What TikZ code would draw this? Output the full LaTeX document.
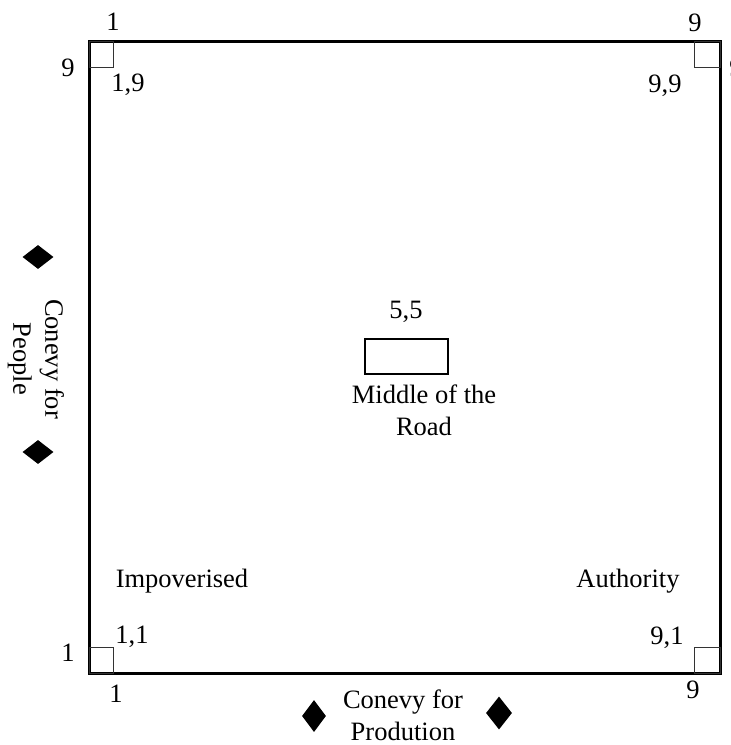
\documentclass[tikz,border=0pt]{standalone}
\usepackage{fontspec}
\setmainfont{Liberation Serif}
\usetikzlibrary{shapes.geometric}
\begin{document}
\begin{tikzpicture}[x=1pt,y=-1pt,
  lbl/.style={inner sep=0pt,anchor=base,font=\fontsize{26.5}{32}\selectfont},
  mlbl/.style={inner sep=0pt,align=center,font=\fontsize{26.5}{32}\selectfont},
  frame/.style={draw=black,line width=3pt},
  corner/.style={draw=black!80,line width=1pt},
  dia/.style={diamond,fill=black,inner sep=0pt,minimum width=#1}]
\useasboundingbox (0,0) rectangle (731,745);
% main frame
\draw[frame] (89.5,41) rectangle (720,673);
% corner squares
\draw[corner] (89.5,41) rectangle (113,67);
\draw[corner] (694,41) rectangle (720,67);
\draw[corner] (89.5,647) rectangle (113,673);
\draw[corner] (694,647) rectangle (720,673);
% corner labels
\node[lbl] (t1) at (113,30) {1};
\node[lbl] (l9) at (68,76) {9};
\node[lbl] (c19) at (128,91) {1,9};
\node[lbl] (t9) at (695,31) {9};
\node[lbl] (c99) at (665,92) {9,9};
\node[lbl] (r9) at (736,76) {9};
\node[lbl] (c11) at (132,643) {1,1};
\node[lbl] (l1) at (68,661) {1};
\node[lbl] (b1) at (116,702) {1};
\node[lbl] (c91) at (667,644) {9,1};
\node[lbl] (b9) at (693,698) {9};
% quadrant labels
\node[lbl] (imp) at (182,587) {Impoverised};
\node[lbl] (auth) at (628,587) {Authority};
% middle
\node[lbl] (c55) at (406,318) {5,5};
\draw[frame,line width=2.7pt] (365,339) rectangle (448,374);
\node[mlbl] (mid) at (424,410) {Middle of the\\Road};
% axes
\node[mlbl,rotate=-90] (people) at (36,359) {Conevy for\\People};
\node[dia,minimum width=31pt,minimum height=24pt] (d1) at (38,257) {};
\node[dia,minimum width=31pt,minimum height=24pt] (d2) at (38,452) {};
\node[mlbl] (prod) at (403,715) {Conevy for\\Prodution};
\node[dia,minimum width=24pt,minimum height=32pt] (d3) at (314,716) {};
\node[dia,minimum width=26pt,minimum height=33pt] (d4) at (499,713) {};
\end{tikzpicture}
\end{document}
